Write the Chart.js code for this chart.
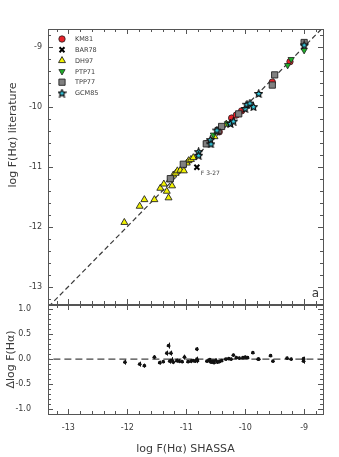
<!DOCTYPE html>
<html>
<head>
<meta charset="utf-8">
<script src="https://cdn.jsdelivr.net/npm/chart.js@4/dist/chart.umd.min.js"></script>
<style>
  html, body { margin: 0; padding: 0; background: #fff; }
  #wrap { position: relative; width: 339px; height: 457px; }
  canvas { position: absolute; left: 0; top: 0; }
</style>
</head>
<body>
<div id="wrap">
  <canvas id="top" width="339" height="457"></canvas>
  <canvas id="bottom" width="339" height="457"></canvas>
</div>
<script>
// log F(Halpha) SHASSA (x) vs literature (y), per catalogue
var km81X = [-10.65, -10.44, -10.23, -10.15, -10.06, -9.54, -9.24];
var km81Y = [-10.61, -10.42, -10.19, -10.14, -10.07, -9.59, -9.25];
var bar78X = [-10.82];
var bar78Y = [-11.01];
var dh97X = [-12.05, -11.79, -11.71, -11.54, -11.44, -11.38, -11.33, -11.30, -11.28, -11.24, -11.22, -11.18, -11.15, -11.10, -11.04, -10.99, -10.96, -10.92, -10.88, -10.52, -10.32];
var dh97Y = [-11.93, -11.66, -11.55, -11.55, -11.36, -11.29, -11.41, -11.52, -11.22, -11.32, -11.14, -11.11, -11.07, -11.06, -11.07, -10.94, -10.90, -10.88, -10.85, -10.50, -10.29];
var ptp71X = [-10.54, -10.30, -9.28, -9.22, -9.00];
var ptp71Y = [-10.47, -10.28, -9.31, -9.21, -9.06];
var tpp77X = [-11.27, -11.05, -10.66, -10.46, -10.40, -10.11, -9.54, -9.50, -9.00];
var tpp77Y = [-11.20, -10.96, -10.62, -10.40, -10.33, -10.12, -9.64, -9.47, -8.93];
var gcm85X = [-10.79, -10.79, -10.59, -10.58, -10.48, -10.25, -10.20, -10.00, -9.97, -9.92, -9.86, -9.77, -9.00];
var gcm85Y = [-10.75, -10.81, -10.55, -10.62, -10.39, -10.28, -10.24, -10.03, -9.96, -9.94, -10.00, -9.78, -8.97];

// residuals (lower panel)
var resX = [-12.04, -11.79, -11.71, -11.54, -11.45, -11.39, -11.33, -11.30, -11.28, -11.26, -11.24, -11.22, -11.16, -11.12, -11.07, -11.03, -10.97, -10.92, -10.88, -10.85, -10.82, -10.82, -10.81, -10.65, -10.62, -10.60, -10.58, -10.55, -10.53, -10.50, -10.47, -10.44, -10.40, -10.33, -10.28, -10.24, -10.20, -10.15, -10.10, -10.04, -10.00, -9.96, -9.87, -9.78, -9.77, -9.57, -9.53, -9.29, -9.22, -9.01, -9.01];
var resY = [-0.06, -0.10, -0.13, 0.04, -0.07, -0.05, 0.12, 0.27, -0.04, 0.12, -0.02, -0.06, -0.03, -0.04, -0.05, 0.04, -0.05, -0.04, -0.03, -0.04, 0.20, 0.00, -0.03, -0.04, -0.03, -0.01, -0.06, -0.04, -0.07, -0.02, -0.06, -0.05, -0.03, 0.00, 0.01, 0.00, 0.08, 0.03, 0.02, 0.03, 0.04, 0.03, 0.13, 0.00, 0.00, 0.07, -0.04, 0.02, 0.00, -0.04, 0.01];
var resErr = [0.05, 0.05, 0.04, 0.04, 0.04, 0.03, 0.05, 0.06, 0.05, 0.05, 0.06, 0.04, 0.04, 0.04, 0.03, 0.05, 0.03, 0.04, 0.03, 0.03, 0.04, 0.05, 0.05, 0.03, 0.04, 0.03, 0.03, 0.03, 0.03, 0.03, 0.03, 0.03, 0.03, 0.03, 0.03, 0.03, 0.03, 0.03, 0.03, 0.03, 0.03, 0.03, 0.03, 0.03, 0.02, 0.03, 0.03, 0.03, 0.03, 0.05, 0.04];
var resXErr = 0.03;

var oneToOne = [-14, -8];
var zeroLine = [-14, -8];
var labels = ['KM81', 'BAR78', 'DH97', 'PTP71', 'TPP77', 'GCM85'];
var xTicks = [-13, -12, -11, -10, -9];

var FONT = '"DejaVu Sans", sans-serif';
var INK = '#3a3a3a';

function pts(xs, ys) {
    return xs.map(function (v, i) { return {x: v, y: ys[i]}; });
}

// filled 5-point star as a point style
function makeStar() {
    var c = document.createElement('canvas');
    c.width = 9; c.height = 9;
    var g = c.getContext('2d');
    g.beginPath();
    for (var i = 0; i < 10; i++) {
        var r = i % 2 === 0 ? 3.9 : 1.8;
        var a = -Math.PI / 2 + i * Math.PI / 5;
        var px = 4.5 + r * Math.cos(a), py = 4.9 + r * Math.sin(a);
        if (i === 0) g.moveTo(px, py); else g.lineTo(px, py);
    }
    g.closePath();
    g.fillStyle = '#35cfe6';
    g.fill();
    g.lineWidth = 1.2;
    g.strokeStyle = '#111';
    g.stroke();
    return c;
}
var star = makeStar();

// box + inward ticks on all four sides
var framePlugin = {
    id: 'frame',
    afterDraw: function (chart, args, opts) {
        var ctx = chart.ctx, a = chart.chartArea;
        var sx = chart.scales.x, sy = chart.scales.y;
        ctx.save();
        ctx.strokeStyle = '#555';
        ctx.lineWidth = 1;
        ctx.strokeRect(Math.round(a.left) + 0.5, Math.round(a.top) + 0.5, Math.round(a.right - a.left), Math.round(a.bottom - a.top));
        ctx.beginPath();
        function ticksFor(scale, step) {
            var out = [];
            var start = Math.ceil(scale.min / step - 1e-6);
            for (var k = start; k * step <= scale.max + 1e-9; k++) out.push(k * step);
            return out;
        }
        ticksFor(sx, opts.xMinor).forEach(function (v) {
            var major = Math.abs(v - Math.round(v / opts.xMajor) * opts.xMajor) < 1e-6;
            var len = major ? 5 : 3;
            var px = Math.round(sx.getPixelForValue(v)) + 0.5;
            ctx.moveTo(px, a.bottom); ctx.lineTo(px, a.bottom - len);
            ctx.moveTo(px, a.top); ctx.lineTo(px, a.top + len);
        });
        ticksFor(sy, opts.yMinor).forEach(function (v) {
            var major = Math.abs(v - Math.round(v / opts.yMajor) * opts.yMajor) < 1e-6;
            var len = major ? 5 : 3;
            var py = Math.round(sy.getPixelForValue(v)) + 0.5;
            ctx.moveTo(a.left, py); ctx.lineTo(a.left + len, py);
            ctx.moveTo(a.right, py); ctx.lineTo(a.right - len, py);
        });
        ctx.stroke();
        ctx.restore();
    }
};

// legend, labels and annotations for the upper panel
var topText = {
    id: 'topText',
    afterDraw: function (chart) {
        var ctx = chart.ctx, a = chart.chartArea;
        var sx = chart.scales.x, sy = chart.scales.y;
        ctx.save();
        // legend
        for (var i = 0; i < labels.length; i++) {
            var ds = chart.data.datasets[i];
            var y = 39 + i * 10.8;
            ctx.fillStyle = ds.backgroundColor;
            ctx.strokeStyle = ds.borderColor;
            ctx.lineWidth = ds.borderWidth;
            Chart.helpers.drawPoint(ctx, {
                pointStyle: ds.pointStyle, radius: ds.pointRadius,
                rotation: ds.rotation || 0, borderWidth: ds.borderWidth
            }, 62, y);
            ctx.fillStyle = INK;
            ctx.font = '6.5px ' + FONT;
            ctx.textAlign = 'left';
            ctx.textBaseline = 'middle';
            ctx.fillText(labels[i], 75, y + 0.5);
        }
        // outlier label
        ctx.font = '6px ' + FONT;
        ctx.fillStyle = '#444';
        ctx.fillText('F 3-27', sx.getPixelForValue(bar78X[0]) + 4, sy.getPixelForValue(bar78Y[0]) + 6.5);
        // panel letter
        ctx.font = '12px ' + FONT;
        ctx.fillStyle = INK;
        ctx.textAlign = 'right';
        ctx.textBaseline = 'alphabetic';
        ctx.fillText('a', a.right - 4, a.bottom - 7);
        // y title
        ctx.translate(13, 135);
        ctx.rotate(-Math.PI / 2);
        ctx.textAlign = 'center';
        ctx.textBaseline = 'middle';
        ctx.font = '11px ' + FONT;
        ctx.fillText('log F(H\u03b1) literature', 0, 0);
        ctx.restore();
    }
};

// error bars for the residual panel
var errPlugin = {
    id: 'errbars',
    afterDatasetsDraw: function (chart) {
        var ctx = chart.ctx, sx = chart.scales.x, sy = chart.scales.y;
        ctx.save();
        ctx.strokeStyle = '#111';
        ctx.lineWidth = 1;
        ctx.beginPath();
        resX.forEach(function (v, i) {
            var px = Math.round(sx.getPixelForValue(v)) + 0.5;
            var py = sy.getPixelForValue(resY[i]);
            ctx.moveTo(px, sy.getPixelForValue(resY[i] + resErr[i]));
            ctx.lineTo(px, sy.getPixelForValue(resY[i] - resErr[i]));
            ctx.moveTo(sx.getPixelForValue(v - resXErr), Math.round(py) + 0.5);
            ctx.lineTo(sx.getPixelForValue(v + resXErr), Math.round(py) + 0.5);
        });
        ctx.stroke();
        ctx.restore();
    }
};

var xMin = -13.345, xMax = -8.68;

var tickFont = {family: FONT, size: 8};

new Chart(document.getElementById('top').getContext('2d'), {
    type: 'scatter',
    data: {
        datasets: [
            {label: labels[0], data: pts(km81X, km81Y), pointStyle: 'circle', pointRadius: 3.2, backgroundColor: '#e8232a', borderColor: '#222', borderWidth: 0.8, order: 5},
            {label: labels[1], data: pts(bar78X, bar78Y), pointStyle: 'crossRot', pointRadius: 3.5, backgroundColor: '#000', borderColor: '#000', borderWidth: 2, order: 0},
            {label: labels[2], data: pts(dh97X, dh97Y), pointStyle: 'triangle', pointRadius: 4, backgroundColor: '#f2f200', borderColor: '#222', borderWidth: 0.9, order: 6},
            {label: labels[3], data: pts(ptp71X, ptp71Y), pointStyle: 'triangle', rotation: 180, pointRotation: 180, pointRadius: 3.6, backgroundColor: '#1fae2a', borderColor: '#222', borderWidth: 0.8, order: 2},
            {label: labels[4], data: pts(tpp77X, tpp77Y), pointStyle: 'rect', pointRadius: 4.4, backgroundColor: '#808080', borderColor: '#222', borderWidth: 0.9, order: 4},
            {label: labels[5], data: pts(gcm85X, gcm85Y), pointStyle: star, pointRadius: 4.5, backgroundColor: '#35cfe6', borderColor: '#111', borderWidth: 1, order: 1},
            {type: 'line', data: pts(oneToOne, oneToOne), borderColor: '#3a3a3a', borderWidth: 1.2, borderDash: [5, 3], pointRadius: 0, fill: false, order: 9}
        ]
    },
    options: {
        responsive: false,
        animation: false,
        layout: {padding: {left: 0, top: 29, right: 16, bottom: 153}},
        plugins: {
            legend: {display: false}, tooltip: {enabled: false},
            frame: {xMinor: 0.2, xMajor: 1, yMinor: 0.2, yMajor: 1}
        },
        scales: {
            x: {type: 'linear', display: false, min: xMin, max: xMax},
            y: {
                min: -13.29, max: -8.705,
                afterFit: function (s) { s.width = 48; },
                grid: {display: false, drawTicks: false},
                border: {display: false},
                ticks: {stepSize: 1, includeBounds: false, padding: 6, font: tickFont, color: INK}
            }
        }
    },
    plugins: [framePlugin, topText]
});

new Chart(document.getElementById('bottom').getContext('2d'), {
    type: 'scatter',
    data: {
        datasets: [
            {data: pts(resX, resY), pointStyle: 'circle', pointRadius: 1.8, backgroundColor: '#111', borderColor: '#111', borderWidth: 0},
            {type: 'line', data: pts(zeroLine, [0, 0]), borderColor: '#444', borderWidth: 1.1, borderDash: [7, 4], pointRadius: 0, fill: false}
        ]
    },
    options: {
        responsive: false,
        animation: false,
        layout: {padding: {left: 0, top: 305, right: 16, bottom: 0}},
        plugins: {
            legend: {display: false}, tooltip: {enabled: false},
            frame: {xMinor: 0.2, xMajor: 1, yMinor: 0.1, yMajor: 0.5}
        },
        scales: {
            x: {
                type: 'linear', min: xMin, max: xMax,
                afterFit: function (s) { s.height = 43; },
                afterBuildTicks: function (s) { s.ticks = xTicks.map(function (v) { return {value: v}; }); },
                grid: {display: false, drawTicks: false},
                border: {display: false},
                ticks: {padding: 9, font: tickFont, color: INK, callback: function (v) { return String(v); }},
                title: {display: true, text: 'log F(H\u03b1) SHASSA', font: {family: FONT, size: 11}, color: INK, padding: {top: 0, bottom: 1}}
            },
            y: {
                min: -1.094, max: 1.08,
                afterFit: function (s) { s.width = 48; },
                grid: {display: false, drawTicks: false},
                border: {display: false},
                ticks: {stepSize: 0.5, includeBounds: false, padding: 17, font: tickFont, color: INK, callback: function (v) { return v.toFixed(1); }},
                title: {display: true, text: '\u0394log F(H\u03b1)', font: {family: FONT, size: 11}, color: INK, padding: {top: 5, bottom: 0}}
            }
        }
    },
    plugins: [framePlugin, errPlugin]
});
</script>
</body>
</html>
